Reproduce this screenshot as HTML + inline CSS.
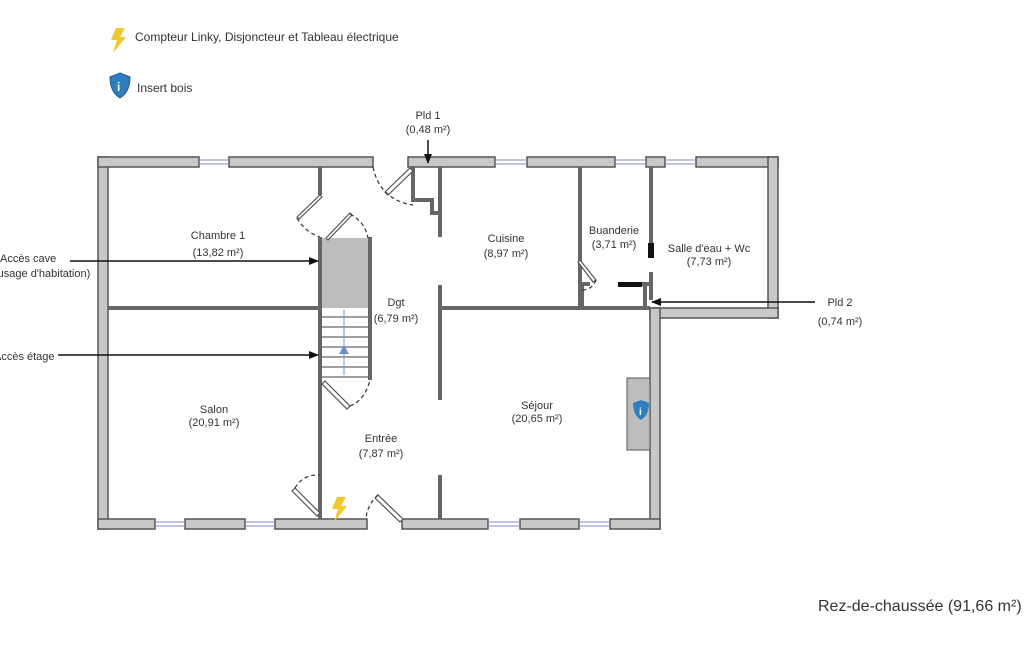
<!DOCTYPE html>
<html><head><meta charset="utf-8"><style>
html,body{margin:0;padding:0;background:#fff;width:1025px;height:650px;overflow:hidden}
svg text{font-family:"Liberation Sans",sans-serif;fill:#333}
</style></head><body>
<svg width="1025" height="650" viewBox="0 0 1025 650" xmlns="http://www.w3.org/2000/svg">
<defs>
<marker id="ah" markerWidth="10" markerHeight="8" refX="9" refY="4" orient="auto" markerUnits="userSpaceOnUse"><path d="M0,0 L10,4 L0,8z" fill="#111"/></marker>
</defs>
<!-- legend -->
<path d="M116,28 L125,28 L120,37 L126,37 L113,53 L117,40 L111,40z" fill="#f2c82f"/>
<text x="135" y="41" font-size="12">Compteur Linky, Disjoncteur et Tableau électrique</text>
<path d="M120,73 L130,77 Q130,92 120,98 Q110,92 110,77z" fill="#2f7fc0" stroke="#1b5a90"/>
<text x="117" y="91" font-size="12" font-weight="bold" style="fill:#fff">i</text>
<text x="137" y="92" font-size="12">Insert bois</text>

<!-- outer walls -->
<g fill="#c8c8c8" stroke="#555" stroke-width="1.5">
<rect x="98" y="157" width="10" height="372"/>
<rect x="98" y="157" width="101" height="10"/>
<rect x="229" y="157" width="144" height="10"/>
<rect x="408" y="157" width="87" height="10"/>
<rect x="527" y="157" width="88" height="10"/>
<rect x="646" y="157" width="19" height="10"/>
<rect x="696" y="157" width="82" height="10"/>
<rect x="768" y="157" width="10" height="161"/>
<rect x="650" y="308" width="128" height="10"/>
<rect x="650" y="308" width="10" height="221"/>
<rect x="98" y="519" width="57" height="10"/>
<rect x="185" y="519" width="60" height="10"/>
<rect x="275" y="519" width="92" height="10"/>
<rect x="402" y="519" width="86" height="10"/>
<rect x="520" y="519" width="59" height="10"/>
<rect x="610" y="519" width="50" height="10"/>
</g>
<!-- windows -->
<g stroke="#8888cc" stroke-width="1" fill="none">
<path d="M199,160H229M199,164H229M495,160H527M495,164H527M615,160H646M615,164H646M665,160H696M665,164H696"/>
<path d="M155,522H185M155,526H185M245,522H275M245,526H275M488,522H520M488,526H520M579,522H610M579,526H610"/>
</g>
<!-- interior walls -->
<g stroke="#666" stroke-width="4" fill="none">
<path d="M320,167V195M320,237V519M108,308H320M440,167V237M440,285V400M440,475V519M440,308H650M580,167V308M651,167V245M651,272V300M370,237V380"/>
<path d="M413,167V200H432V213H440"/>
<path d="M582,284V306M582,284H590M645,284V306M640,284H651"/>
</g>
<rect x="322" y="238" width="46" height="70" fill="#bdbdbd"/>
<g stroke="#666" stroke-width="1.2"><path d="M322,317H368M322,327H368M322,337H368M322,347H368M322,357H368M322,367H368M322,377H368"/></g>
<path d="M344,310V375" stroke="#6a8fd0" stroke-width="1"/><path d="M339,354L344,345L349,354z" fill="#6a8fd0"/>
<rect x="618" y="282" width="24" height="5" fill="#111"/>
<rect x="648" y="243" width="6" height="15" fill="#111"/>
<!-- doors -->
<g fill="#fff" stroke="#555" stroke-width="1.2">
<path d="M297,217L320,195L322,197L299,219z"/>
<path d="M326,238L350,213L352,215L328,240z"/>
<path d="M385,192L410,168L413,171L388,195z"/>
<path d="M580,260L596,280L593,282L578,262z"/>
<path d="M325,381L350,406L347,409L322,384z"/>
<path d="M295,488L320,513L317,516L292,491z"/>
<path d="M378,495L403,519L400,522L375,498z"/>
</g>
<g stroke="#333" stroke-width="1.2" fill="none" stroke-dasharray="4,3">
<path d="M297,218Q305,232 320,237"/><path d="M350,214Q365,222 368,238"/>
<path d="M373,167Q380,200 413,205"/><path d="M596,280Q592,290 582,290"/>
<path d="M350,406Q365,400 370,380"/><path d="M295,488Q303,474 320,475"/><path d="M378,495Q367,505 366,519"/>
</g>
<!-- fireplace -->
<rect x="627" y="378" width="23" height="72" fill="#bdbdbd" stroke="#555"/>
<path d="M641,400L649,403Q649,415 641,420Q633,415 633,403z" fill="#2f7fc0"/>
<text x="639" y="415" font-size="10" font-weight="bold" style="fill:#fff">i</text>
<path d="M337,497L346,497L341,506L347,506L334,522L338,509L332,509z" fill="#f2c82f"/>
<!-- arrows -->
<g stroke="#111" stroke-width="1.5" fill="none">
<path d="M428,140V163" marker-end="url(#ah)"/>
<path d="M70,261H318" marker-end="url(#ah)"/>
<path d="M58,355H318" marker-end="url(#ah)"/>
<path d="M815,302H652" marker-end="url(#ah)"/>
</g>
<!-- labels -->
<g font-size="11" text-anchor="middle">
<text x="428" y="119">Pld 1</text><text x="428" y="133">(0,48 m²)</text>
<text x="218" y="239">Chambre 1</text><text x="218" y="256">(13,82 m²)</text>
<text x="396" y="306">Dgt</text><text x="396" y="322">(6,79 m²)</text>
<text x="506" y="242">Cuisine</text><text x="506" y="257">(8,97 m²)</text>
<text x="614" y="234">Buanderie</text><text x="614" y="248">(3,71 m²)</text>
<text x="709" y="252">Salle d'eau + Wc</text><text x="709" y="265">(7,73 m²)</text>
<text x="214" y="413">Salon</text><text x="214" y="426">(20,91 m²)</text>
<text x="537" y="409">Séjour</text><text x="537" y="422">(20,65 m²)</text>
<text x="381" y="442">Entrée</text><text x="381" y="457">(7,87 m²)</text>
<text x="840" y="306">Pld 2</text><text x="840" y="325">(0,74 m²)</text>
</g>
<g font-size="11">
<text x="0" y="262">Accès cave</text><text x="-6" y="277">(usage d'habitation)</text>
<text x="-6" y="360">Accès étage</text>
</g>
<text x="818" y="611" font-size="16">Rez-de-chaussée (91,66 m²)</text>
</svg>
</body></html>
